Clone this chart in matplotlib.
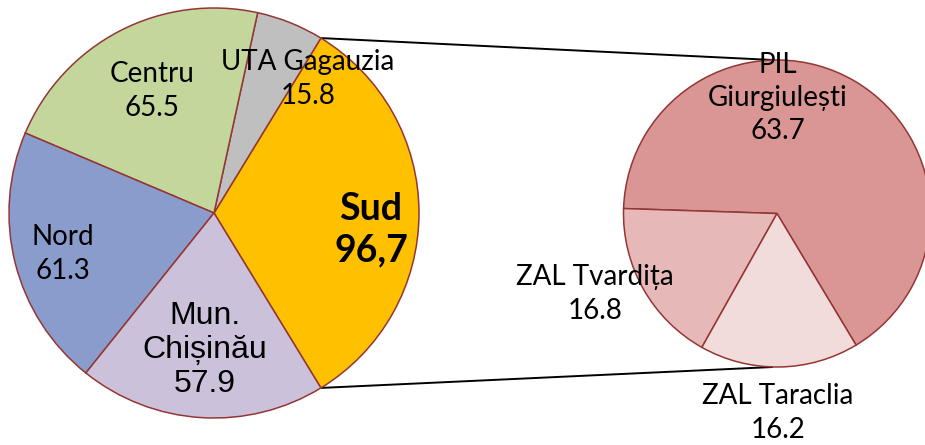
import numpy as np
import matplotlib

matplotlib.use("Agg")
import matplotlib.pyplot as plt

# main pie (mil. lei) and split of the "Sud" slice
regions = ["Sud", "UTA Gagauzia", "Centru", "Nord", "Mun.\nChișinău"]
region_values = [96.7, 15.8, 65.5, 61.3, 57.9]
region_labels = ["Sud\n96,7", "UTA Gagauzia\n15.8", "Centru\n65.5", "Nord\n61.3", "Mun.\nChișinău\n57.9"]
region_colors = ["#FFC000", "#BFBFBF", "#C3D69B", "#8A9CCB", "#CCC1DA"]

zones = ["PIL Giurgiulești", "ZAL Tvardița", "ZAL Taraclia"]
zone_values = [63.7, 16.8, 16.2]
zone_labels = ["PIL\nGiurgiulești\n63.7", "ZAL Tvardița\n16.8", "ZAL Taraclia\n16.2"]
zone_colors = ["#D99694", "#E6B9B8", "#F2DCDB"]

W, H = 925, 445
EDGE = "#943634"

# layout, in pixel coords of the picture (y down)
left_c, left_r = (214, 213), 205
right_c, right_r = (777, 213.5), 153.5
region_label_pos = [(371, 230), (308, 79), (152, 91), (63, 254), (205, 350)]
zone_label_pos = [(778, 98), (595, 294), (778, 413)]


def up(p):
    return (p[0], H - p[1])


def main():
    plt.rcParams["font.family"] = ["Lato", "DejaVu Sans"]
    fig = plt.figure(figsize=(W / 100, H / 100), dpi=100)
    ax = fig.add_axes([0, 0, 1, 1])

    sud_span = region_values[0] / sum(region_values) * 360
    start = -sud_span / 2
    ax.pie(region_values, colors=region_colors, startangle=start, counterclock=True,
           center=up(left_c), radius=left_r, frame=True,
           wedgeprops=dict(edgecolor=EDGE, linewidth=1.1))

    ax.pie(zone_values, colors=zone_colors, startangle=-59, counterclock=True,
           center=up(right_c), radius=right_r, frame=True,
           wedgeprops=dict(edgecolor=EDGE, linewidth=1.1))
    ax.set_xlim(0, W)
    ax.set_ylim(0, H)
    ax.set_aspect("equal")
    ax.axis("off")

    # connector lines from Sud slice edges to top/bottom of the second pie
    lx, ly = up(left_c)
    rx, ry = up(right_c)
    for ang, ty in ((sud_span / 2, ry + right_r), (-sud_span / 2, ry - right_r)):
        a = np.deg2rad(ang)
        ax.plot([lx + left_r * np.cos(a), rx - 4], [ly + left_r * np.sin(a), ty],
                color="black", lw=1.4, solid_capstyle="butt", zorder=0.5)

    for i, (txt, pos) in enumerate(zip(region_labels, region_label_pos)):
        if i == 0:
            ax.text(*up(pos), txt, ha="center", va="center", fontsize=27,
                    fontweight="bold", linespacing=1.25)
        elif regions[i].startswith("Mun."):
            ax.text(*up(pos), txt, ha="center", va="center", fontsize=23,
                    family=["Liberation Sans", "DejaVu Sans"], linespacing=1.18)
        else:
            ax.text(*up(pos), txt, ha="center", va="center", fontsize=20, linespacing=1.35)
    for txt, pos in zip(zone_labels, zone_label_pos):
        ax.text(*up(pos), txt, ha="center", va="center", fontsize=20, linespacing=1.35)

    fig.savefig("out.png", dpi=100, facecolor="white")


if __name__ == "__main__":
    main()
